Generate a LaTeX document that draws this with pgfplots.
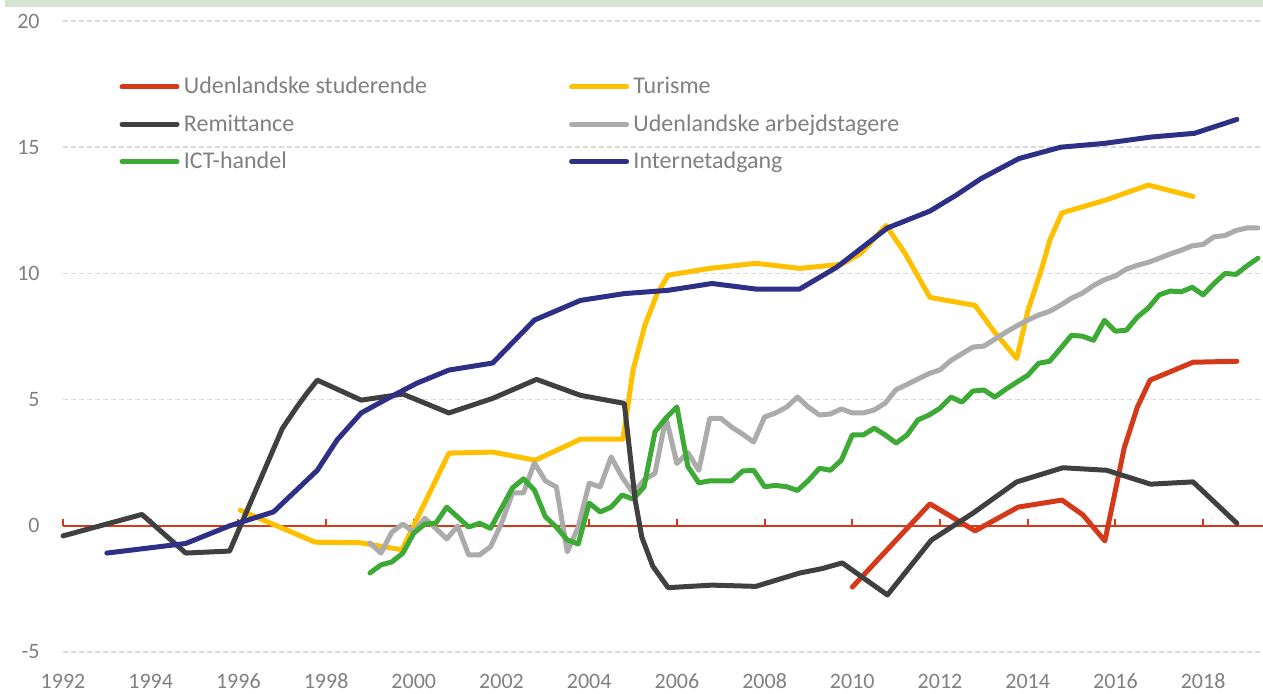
\documentclass[border=0pt]{standalone}
\usepackage{fontspec}
\setmainfont{Carlito}
\usepackage{pgfplots}
\pgfplotsset{compat=1.18}
\definecolor{cstud}{HTML}{D43A1A}
\definecolor{ctur}{HTML}{FFC000}
\definecolor{crem}{HTML}{404040}
\definecolor{carb}{HTML}{ABABAB}
\definecolor{cict}{HTML}{3DAA36}
\definecolor{cnet}{HTML}{2E3085}
\definecolor{txtgray}{HTML}{808080}
\definecolor{gridc}{HTML}{D9D9D9}
\definecolor{band}{HTML}{D6E3CF}

\begin{document}
\begin{tikzpicture}
\useasboundingbox (-31.5pt,-20.5pt) rectangle (600pt,326pt);
\fill[band] (-29pt,322.5pt) rectangle (600pt,326.5pt);
\begin{axis}[
    x=21.925pt, y=12.62pt,
    xmin=1992, xmax=2019.37,
    ymin=-5, ymax=20,
    axis line style={draw=none},
    xtick={1992,1994,...,2018},
    ytick={-5,0,5,10,15,20},
    major tick length=0pt,
    ymajorgrids,
    grid style={draw=gridc, line width=0.8pt, dash pattern=on 2.5pt off 1.5pt},
    /pgf/number format/1000 sep={},
    /pgf/number format/assume math mode=true,
    tick label style={font=\fontsize{11}{13}\selectfont, text=txtgray, inner sep=0pt},
    xticklabel style={anchor=center, yshift=-14.5pt},
    yticklabel style={anchor=east, xshift=-11.5pt},
    clip=false,
    legend columns=2,
    legend cell align=left,
    legend image code/.code={\draw[#1, line cap=round] (0pt,0pt) -- (27.5pt,0pt);},
    legend style={draw=none, fill=none, at={(axis cs:1993.28,17.95)}, anchor=north west,
        inner sep=0pt, font=\fontsize{12}{14}\selectfont, text=txtgray,
        row sep=4.8pt,
        nodes={inner xsep=2.2pt},
        /tikz/every even column/.append style={column sep=68.8pt}},
    every axis plot/.append style={line width=2.5pt, line join=round, line cap=round},
]
% zero line with small upward ticks
\draw[cstud, line width=1pt] (axis cs:1992,0) -- (axis cs:2019.37,0);
\pgfplotsinvokeforeach{1992,1994,...,2018}{\draw[cstud, line width=1pt] (axis cs:#1,0) -- ++(0pt,3.5pt);}

\addlegendimage{cstud, line width=2.5pt}
\addlegendentry{Udenlandske studerende}
\addlegendimage{ctur, line width=2.5pt}
\addlegendentry{Turisme}
\addlegendimage{crem, line width=2.5pt}
\addlegendentry{Remittance}
\addlegendimage{carb, line width=2.5pt}
\addlegendentry{Udenlandske arbejdstagere}
\addlegendimage{cict, line width=2.5pt}
\addlegendentry{ICT-handel}
\addlegendimage{cnet, line width=2.5pt}
\addlegendentry{Internetadgang}

% Udenlandske studerende
\addplot[cstud, forget plot] coordinates {
(2010.0,-2.43) (2011.77,0.87) (2012.8,-0.2) (2013.78,0.74) (2014.78,1.02)
(2015.26,0.43) (2015.76,-0.6) (2016.0,1.4) (2016.2,3.08) (2016.5,4.7)
(2016.79,5.77) (2017.77,6.48) (2018.77,6.52)};

% Turisme
\addplot[ctur, forget plot] coordinates {
(1996.04,0.62) (1997.75,-0.65) (1998.77,-0.67) (1999.73,-0.95) (2000.8,2.88)
(2001.8,2.92) (2002.77,2.6) (2003.8,3.43) (2004.77,3.43) (2005.0,6.17)
(2005.27,7.95) (2005.55,9.2) (2005.8,9.93) (2006.75,10.2) (2007.8,10.4)
(2008.8,10.2) (2009.75,10.36) (2010.2,10.8) (2010.77,11.9) (2011.2,10.8)
(2011.77,9.05) (2012.8,8.73) (2013.25,7.66) (2013.75,6.63) (2014.0,8.5)
(2014.33,10.25) (2014.5,11.3) (2014.78,12.4) (2015.77,12.9) (2016.75,13.5)
(2017.77,13.05)};

% Udenlandske arbejdstagere
\addplot[carb, forget plot] coordinates {
(1999.00,-0.68) (1999.25,-1.08) (1999.50,-0.25) (1999.75,0.07)
(2000.00,-0.25) (2000.25,0.30) (2000.50,-0.10) (2000.75,-0.52)
(2001.00,-0.01) (2001.25,-1.15) (2001.50,-1.15) (2001.75,-0.83)
(2002.00,0.10) (2002.25,1.30) (2002.50,1.30) (2002.75,2.49)
(2003.00,1.78) (2003.25,1.54) (2003.50,-1.03) (2003.75,-0.05)
(2004.00,1.69) (2004.25,1.54) (2004.50,2.73) (2004.75,1.93)
(2005.00,1.30) (2005.25,1.81) (2005.50,2.08) (2005.75,4.30)
(2006.00,2.47) (2006.25,2.90) (2006.50,2.20) (2006.75,4.26)
(2007.00,4.26) (2007.25,3.91) (2007.50,3.63) (2007.75,3.32)
(2008.00,4.31) (2008.25,4.47) (2008.50,4.70) (2008.75,5.10)
(2009.00,4.70) (2009.25,4.39) (2009.50,4.43) (2009.75,4.63)
(2010.00,4.47) (2010.25,4.47) (2010.50,4.59) (2010.75,4.86)
(2011.00,5.40) (2011.25,5.60) (2011.50,5.82) (2011.75,6.03)
(2012.00,6.18) (2012.25,6.55) (2012.50,6.82) (2012.75,7.08)
(2013.00,7.12) (2013.25,7.39) (2013.50,7.67) (2013.75,7.92)
(2014.00,8.15) (2014.25,8.35) (2014.50,8.50) (2014.75,8.74)
(2015.00,9.02) (2015.25,9.22) (2015.50,9.52) (2015.75,9.75)
(2016.00,9.90) (2016.25,10.17) (2016.50,10.32) (2016.75,10.44)
(2017.00,10.60) (2017.25,10.77) (2017.50,10.92) (2017.75,11.09)
(2018.00,11.15) (2018.25,11.45) (2018.50,11.50) (2018.75,11.70)
(2019.00,11.80) (2019.25,11.80)};

% ICT-handel
\addplot[cict, forget plot] coordinates {
(1999.00,-1.87) (1999.25,-1.55) (1999.50,-1.43) (1999.75,-1.08)
(2000.00,-0.29) (2000.25,0.07) (2000.50,0.10) (2000.75,0.74)
(2001.00,0.35) (2001.25,-0.05) (2001.50,0.10) (2001.75,-0.10)
(2002.00,0.70) (2002.25,1.50) (2002.50,1.86) (2002.75,1.42)
(2003.00,0.36) (2003.25,-0.05) (2003.50,-0.56) (2003.75,-0.72)
(2004.00,0.90) (2004.25,0.55) (2004.50,0.74) (2004.75,1.22)
(2005.00,1.06) (2005.25,1.54) (2005.50,3.72) (2005.75,4.27)
(2006.00,4.71) (2006.25,2.35) (2006.50,1.70) (2006.75,1.78)
(2007.00,1.78) (2007.25,1.78) (2007.50,2.17) (2007.75,2.20)
(2008.00,1.55) (2008.25,1.60) (2008.50,1.55) (2008.75,1.40)
(2009.00,1.80) (2009.25,2.28) (2009.50,2.20) (2009.75,2.60)
(2010.00,3.60) (2010.25,3.60) (2010.50,3.87) (2010.75,3.60)
(2011.00,3.28) (2011.25,3.60) (2011.50,4.20) (2011.75,4.39)
(2012.00,4.66) (2012.25,5.10) (2012.50,4.90) (2012.75,5.34)
(2013.00,5.38) (2013.25,5.10) (2013.50,5.41) (2013.75,5.69)
(2014.00,5.96) (2014.25,6.44) (2014.50,6.52) (2014.75,7.03)
(2015.00,7.55) (2015.25,7.51) (2015.50,7.35) (2015.75,8.14)
(2016.00,7.71) (2016.25,7.75) (2016.50,8.27) (2016.75,8.63)
(2017.00,9.15) (2017.25,9.30) (2017.50,9.27) (2017.75,9.45)
(2018.00,9.15) (2018.25,9.60) (2018.50,10.00) (2018.75,9.96)
(2019.00,10.30) (2019.25,10.60)};

% Remittance
\addplot[crem, forget plot] coordinates {
(1992.0,-0.4) (1993.8,0.45) (1994.8,-1.08) (1995.8,-1.0) (1997.0,3.85)
(1997.33,4.7) (1997.57,5.27) (1997.8,5.77) (1998.8,4.98) (1999.75,5.22)
(2000.8,4.47) (2001.8,5.05) (2002.8,5.8) (2003.8,5.17) (2004.8,4.85)
(2005.05,1.0) (2005.2,-0.45) (2005.45,-1.6) (2005.8,-2.45) (2006.8,-2.35)
(2007.8,-2.4) (2008.8,-1.87) (2009.3,-1.7) (2009.77,-1.47) (2010.8,-2.74)
(2011.8,-0.57) (2012.75,0.5) (2013.75,1.74) (2014.8,2.3) (2015.8,2.2)
(2016.8,1.65) (2017.77,1.74) (2018.77,0.1)};

% Internetadgang
\addplot[cnet, forget plot] coordinates {
(1993.0,-1.08) (1994.8,-0.7) (1995.8,0.0) (1996.8,0.55) (1997.8,2.2)
(1998.25,3.4) (1998.8,4.47) (1999.46,5.1) (2000.07,5.65) (2000.8,6.17)
(2001.8,6.45) (2002.75,8.15) (2003.8,8.93) (2004.8,9.2) (2005.8,9.33)
(2006.8,9.6) (2007.8,9.38) (2008.8,9.38) (2009.65,10.25) (2010.8,11.8)
(2011.77,12.47) (2012.37,13.1) (2012.93,13.75) (2013.8,14.55) (2014.75,15.0)
(2015.74,15.15) (2016.8,15.4) (2017.8,15.55) (2018.77,16.1)};
\end{axis}
\end{tikzpicture}
\end{document}
